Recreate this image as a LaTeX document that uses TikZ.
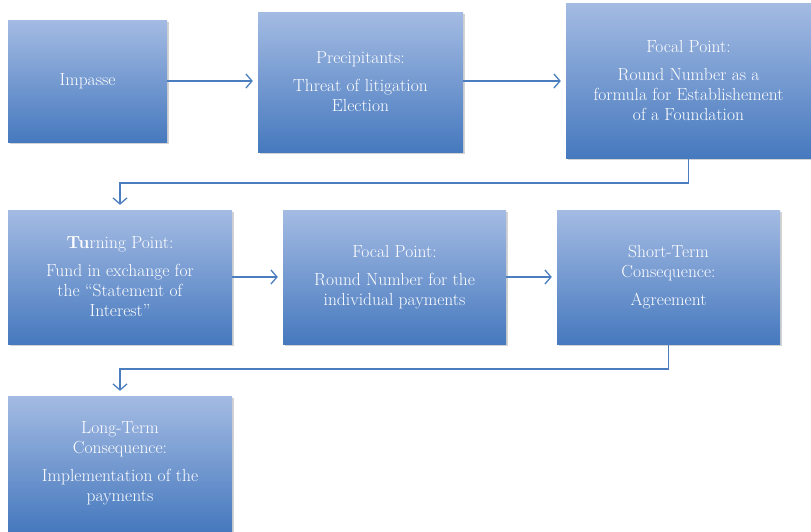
\documentclass[tikz,border=0pt]{standalone}
\usepackage{tikz}
\usetikzlibrary{positioning, arrows.meta, shadows}

\definecolor{boxtop}{RGB}{164,187,227}
\definecolor{boxbot}{RGB}{70,121,190}
\definecolor{flow}{RGB}{74,126,191}

\tikzset{
  stage/.style={rectangle, top color=boxtop, bottom color=boxbot, draw=none,
    text=white, align=center, inner sep=0pt,
    font=\fontsize{17.5}{20}\selectfont,
    drop shadow={shadow xshift=1.5pt, shadow yshift=-2pt, opacity=0.35}},
  flowline/.style={draw=flow, line width=1.3pt,
    -{Straight Barb[length=6pt, width=14pt, line width=1.3pt]}, shorten >=5pt}
}

\begin{document}
\begin{tikzpicture}[x=1pt, y=-1pt]
  \useasboundingbox (0,0) rectangle (811,531);

  % first row
  \node[stage, minimum width=159pt, minimum height=122pt] (impasse) at (87.5,81) {Impasse};
  \node[stage, minimum width=205pt, minimum height=140pt] (precip) at (360.5,82)
    {Precipitants:\\[8pt] Threat of litigation\\ Election};
  \node[stage, minimum width=245pt, minimum height=155pt] (focalA) at (688.5,80.5)
    {Focal Point:\\[8pt] Round Number as a\\ formula for Establishement\\ of a Foundation};

  % second row
  \node[stage, minimum width=224pt, minimum height=134pt] (turn) at (120,277)
    {{\bfseries Tu}rning Point:\\[8pt] Fund in exchange for\\ the ``Statement of\\ Interest''};
  \node[stage, minimum width=223pt, minimum height=134pt] (focalB) at (394.5,277)
    {Focal Point:\\[8pt] Round Number for the\\ individual payments};
  \node[stage, minimum width=223pt, minimum height=134pt] (short) at (668.5,277)
    {Short-Term\\ Consequence:\\[8pt] Agreement};

  % third row
  \node[stage, minimum width=224pt, minimum height=135pt] (long) at (120,463.5)
    {Long-Term\\ Consequence:\\[8pt] Implementation of the\\ payments};

  % connectors
  \coordinate (elbowA) at (120,183);
  \coordinate (elbowB) at (120,369);
  \draw[flowline] (impasse.east) -- (impasse.east -| precip.west);
  \draw[flowline] (precip.east |- impasse.east) -- (impasse.east -| focalA.west);
  \draw[flowline] (focalA.south) |- (elbowA) -- (turn.north);
  \draw[flowline] (turn.east) -- (focalB.west);
  \draw[flowline] (focalB.east) -- (short.west);
  \draw[flowline] (short.south) |- (elbowB) -- (long.north);
\end{tikzpicture}
\end{document}
